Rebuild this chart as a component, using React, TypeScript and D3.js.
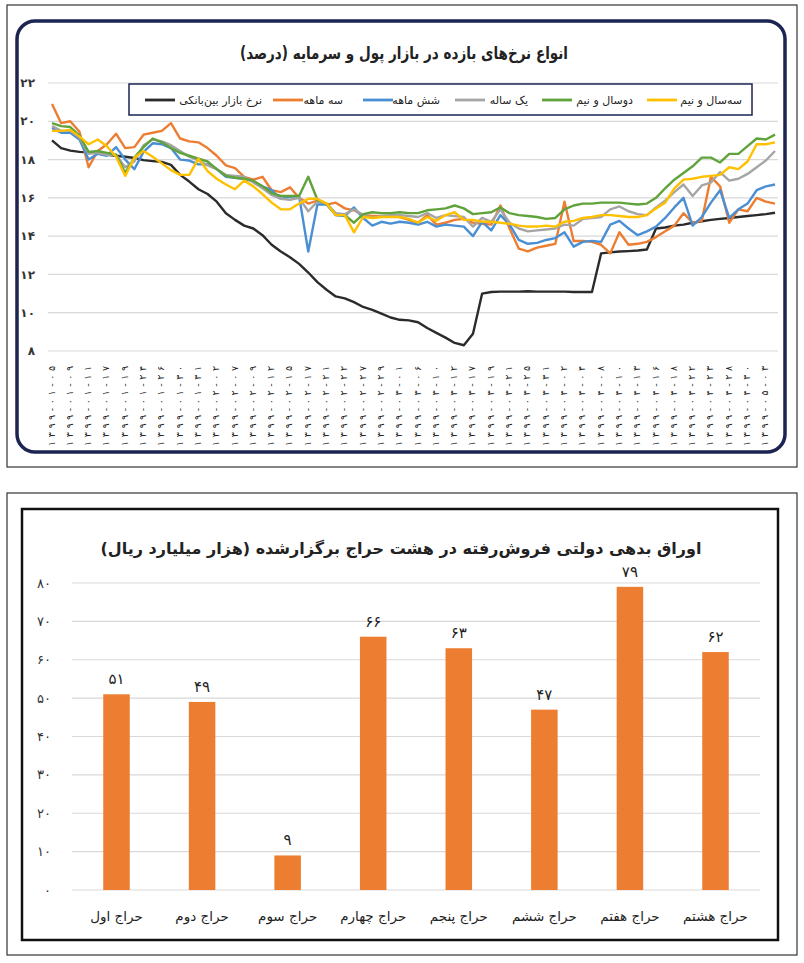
import React from 'react';
import * as d3 from 'd3';

// ---- top chart: rates (percent), one value per trading point ----
const dateLabels = [
  '1399-01-05', '1399-01-09', '1399-01-11', '1399-01-17', '1399-01-19',
  '1399-01-24', '1399-01-26', '1399-01-30', '1399-01-31', '1399-02-02',
  '1399-02-07', '1399-02-09', '1399-02-12', '1399-02-15', '1399-02-17',
  '1399-02-21', '1399-02-22', '1399-02-27', '1399-02-29', '1399-03-01',
  '1399-03-06', '1399-03-10', '1399-03-12', '1399-03-17', '1399-03-19',
  '1399-03-21', '1399-03-25', '1399-03-31', '1399-04-02', '1399-04-04',
  '1399-04-08', '1399-04-10', '1399-04-13', '1399-04-16', '1399-04-18',
  '1399-04-22', '1399-04-23', '1399-04-28', '1399-04-30', '1399-05-03',
];

const interbank = [
  19.0, 18.6, 18.47, 18.4, 18.38, 18.35, 18.25, 18.2, 18.15, 18.08,
  17.97, 17.92, 17.88, 17.72, 17.2, 16.85, 16.45, 16.2, 15.8, 15.2,
  14.85, 14.55, 14.4, 14.05, 13.55, 13.2, 12.9, 12.55, 12.1, 11.6,
  11.2, 10.85, 10.75, 10.55, 10.3, 10.15, 9.95, 9.75, 9.63, 9.6,
  9.5, 9.2, 8.95, 8.7, 8.42, 8.3, 8.9, 11.0, 11.08, 11.1,
  11.1, 11.1, 11.12, 11.1, 11.1, 11.1, 11.1, 11.08, 11.08, 11.08,
  13.1, 13.15, 13.2, 13.22, 13.25, 13.3, 14.4, 14.45, 14.55, 14.6,
  14.7, 14.78, 14.85, 14.9, 14.95, 15.0, 15.05, 15.1, 15.15, 15.22,
];
const threeMonth = [
  20.9, 19.9, 20.0, 19.45, 17.6, 18.45, 18.8, 19.35, 18.6, 18.65,
  19.3, 19.4, 19.5, 19.9, 19.1, 18.95, 18.9, 18.6, 18.2, 17.7,
  17.55, 17.1, 16.95, 17.1, 16.4, 16.3, 16.55, 16.0, 15.7, 15.85,
  15.65, 15.75, 15.45, 15.35, 15.1, 15.05, 15.05, 15.05, 15.0, 14.85,
  14.7, 15.1, 14.6, 14.7, 14.85, 14.9, 14.7, 14.65, 14.6, 15.6,
  14.4, 13.35, 13.2, 13.4, 13.5, 13.6, 15.8, 13.75, 13.75, 13.7,
  13.55, 13.1, 14.2, 13.55, 13.6, 13.7, 13.95, 14.25, 14.55, 15.2,
  14.7, 14.8, 17.1, 16.6, 14.7, 15.4, 15.3, 16.0, 15.8, 15.7,
];
const sixMonth = [
  19.65, 19.4, 19.4, 19.05, 18.0, 18.3, 18.2, 18.65, 18.0, 17.5,
  18.4, 18.85, 18.8, 18.6, 18.0, 17.95, 17.75, 17.75, 17.5, 17.1,
  17.05, 17.0, 16.85, 16.6, 16.4, 15.95, 16.05, 16.1, 13.2, 15.65,
  15.65, 15.1, 15.05, 15.5, 14.95, 14.55, 14.75, 14.65, 14.75, 14.7,
  14.6, 14.75, 14.5, 14.6, 14.55, 14.5, 14.0, 14.75, 14.3, 15.1,
  14.6, 13.8, 13.6, 13.65, 13.8, 13.9, 14.2, 13.45, 13.7, 13.75,
  13.7, 14.6, 14.8, 14.4, 14.05, 14.25, 14.5, 14.95, 15.5, 16.0,
  14.55, 15.0, 15.75, 16.4, 14.95, 15.4, 15.7, 16.4, 16.6, 16.7,
];
const oneYear = [
  19.75, 19.5, 19.5, 19.15, 18.3, 18.35, 18.25, 18.25, 17.6, 17.9,
  18.75, 19.05, 18.95, 18.75, 18.45, 18.15, 17.95, 17.7, 17.5, 17.2,
  17.15, 17.1, 16.8, 16.5, 16.15, 15.95, 15.9, 16.0, 15.3, 15.8,
  15.7, 15.2, 15.15, 15.4, 15.1, 14.95, 15.05, 15.1, 15.1, 15.05,
  15.0, 15.2, 14.95, 15.1, 15.05, 15.0, 14.5, 14.95, 14.75, 15.4,
  14.7, 14.4, 14.25, 14.3, 14.35, 14.4, 14.6, 14.55, 14.9, 14.95,
  15.0, 15.4, 15.55, 15.3, 15.15, 15.1, 15.5, 15.85, 16.3, 16.7,
  16.1, 16.65, 16.8, 17.35, 16.9, 17.0, 17.25, 17.6, 17.95, 18.45,
];
const twoHalfYear = [
  19.9, 19.75, 19.7, 19.25, 18.4, 18.45, 18.35, 18.25, 17.3, 18.1,
  18.65, 19.1, 18.9, 18.6, 18.35, 18.2, 18.05, 17.9, 17.5, 17.15,
  17.05, 17.0, 16.9, 16.6, 16.25, 16.1, 16.1, 16.1, 17.1, 15.9,
  15.7, 15.1, 15.1, 14.7, 15.15, 15.25, 15.2, 15.2, 15.25, 15.2,
  15.2, 15.35, 15.4, 15.45, 15.6, 15.45, 15.15, 15.2, 15.25, 15.5,
  15.2, 15.1, 15.05, 15.0, 14.9, 14.95, 15.4, 15.6, 15.7, 15.7,
  15.75, 15.75, 15.75, 15.7, 15.65, 15.7, 16.0, 16.5, 16.95, 17.3,
  17.65, 18.1, 18.1, 17.85, 18.3, 18.3, 18.7, 19.1, 19.05, 19.3,
];
const threeHalfYear = [
  19.5, 19.5, 19.55, 19.2, 18.8, 19.05, 18.7, 18.15, 17.15, 18.1,
  18.45, 18.15, 17.8, 17.45, 17.2, 17.2, 18.05, 17.4, 17.0, 16.7,
  16.45, 16.9, 16.6, 16.2, 15.75, 15.4, 15.4, 15.7, 15.95, 15.95,
  15.7, 15.1, 15.1, 14.2, 15.0, 14.95, 15.0, 15.0, 15.0, 14.9,
  14.7, 15.0, 14.8, 15.1, 15.25, 14.85, 14.85, 14.75, 14.75, 14.7,
  14.65, 14.55, 14.5, 14.5, 14.55, 14.5, 14.75, 14.8, 14.95, 15.0,
  15.1, 15.1, 15.05, 15.0, 15.0, 15.1, 15.45, 15.75, 16.5, 16.95,
  17.0, 17.1, 17.15, 17.2, 17.6, 17.5, 17.9, 18.8, 18.8, 18.9,
];

const seriesNames = [
  'نرخ بازار بین‌بانکی', 'سه ماهه', 'شش ماهه', 'یک ساله', 'دوسال و نیم', 'سه‌سال و نیم',
];
const seriesColors = ['#2b2b2b', '#ED7D31', '#4A8FD4', '#A5A5A5', '#5FA33A', '#FFC000'];
const seriesValues = [interbank, threeMonth, sixMonth, oneYear, twoHalfYear, threeHalfYear];
const rateTicks = [8, 10, 12, 14, 16, 18, 20, 22];

// ---- bottom chart: sold government bonds per auction (thousand billion rials) ----
const auctions = [
  'حراج اول', 'حراج دوم', 'حراج سوم', 'حراج چهارم',
  'حراج پنجم', 'حراج ششم', 'حراج هفتم', 'حراج هشتم',
];
const auctionValues = [51, 49, 9, 66, 63, 47, 79, 62];
const auctionTicks = [0, 10, 20, 30, 40, 50, 60, 70, 80];

const faDigits = '۰۱۲۳۴۵۶۷۸۹';
const fa = (v: string | number) => String(v).replace(/[0-9]/g, d => faDigits[+d]);

const FONT = '"DejaVu Sans", sans-serif';
const NAVY = '#1c2452';

// legend layout (swatch start, text end) – RTL style legend of the original
const legendSwatchX = [145, 273, 363, 455, 542, 647];
const legendTextEnd = [262, 343, 440, 528, 633, 742];

const RatesChart: React.FC = () => {
  const n = interbank.length;
  const x = d3.scaleLinear().domain([0, n - 1]).range([52, 775]);
  const y = d3.scaleLinear().domain([8, 22]).range([351, 83]);
  const line = d3
    .line<number>()
    .x((_d, i) => x(i))
    .y(d => y(d));

  return (
    <g fontFamily={FONT}>
      {/* frames */}
      <rect x={7} y={5} width={790} height={462} fill="#fff" stroke="#333" strokeWidth={1.2} />
      <rect x={17} y={21} width={768} height={431} rx={18} fill="#fff" stroke={NAVY} strokeWidth={3.5} />

      <text
        x={404}
        y={59}
        textAnchor="middle"
        fontSize={17}
        fontWeight="bold"
        fill="#222"
        textLength={328}
        lengthAdjust="spacingAndGlyphs"
      >
        انواع نرخ‌های بازده در بازار پول و سرمایه (درصد)
      </text>

      {/* grid + y labels */}
      {rateTicks.map(t => (
        <g key={t}>
          <line x1={48} x2={778} y1={y(t)} y2={y(t)} stroke="#d9d9d9" strokeWidth={1.2} />
          <text x={35} y={y(t)} dy="0.35em" textAnchor="end" fontSize={12} fontWeight="bold" fill="#333">
            {fa(t)}
          </text>
        </g>
      ))}

      {/* x labels (every second point) */}
      {dateLabels.map((lab, k) => (
        <text
          key={lab + k}
          transform={`translate(${x(k * 2)},366) rotate(-90)`}
          textAnchor="end"
          dominantBaseline="middle"
          fontSize={9.5}
          fill="#222"
          textLength={80}
          lengthAdjust="spacing"
        >
          {fa(lab)}
        </text>
      ))}

      {/* series */}
      {seriesValues.map((vals, s) => (
        <path
          key={s}
          d={line(vals) || ''}
          fill="none"
          stroke={seriesColors[s]}
          strokeWidth={2.4}
          strokeLinejoin="round"
        />
      ))}

      {/* legend */}
      <rect x={129} y={84} width={623} height={31} fill="#fff" stroke={NAVY} strokeWidth={1.5} />
      {seriesNames.map((name, s) => (
        <g key={name}>
          <line
            x1={legendSwatchX[s]}
            x2={legendSwatchX[s] + 30}
            y1={100}
            y2={100}
            stroke={seriesColors[s]}
            strokeWidth={2.8}
          />
          <text x={legendTextEnd[s]} y={104} textAnchor="end" fontSize={11} fill="#222">
            {name}
          </text>
        </g>
      ))}
    </g>
  );
};

const AuctionChart: React.FC = () => {
  const x = d3
    .scaleBand<string>()
    .domain(auctions)
    .range([72, 760])
    .paddingInner(0.69)
    .paddingOuter(0.365);
  const y = d3.scaleLinear().domain([0, 80]).range([890, 583]);

  return (
    <g fontFamily={FONT}>
      <rect x={7} y={493} width={790} height={462} fill="#fff" stroke="#333" strokeWidth={1.2} />
      <rect x={22} y={509} width={756} height={431} fill="#fff" stroke="#111" strokeWidth={2.5} />

      <text x={401} y={554} textAnchor="middle" fontSize={16} fontWeight="bold" fill="#222">
        اوراق بدهی دولتی فروش‌رفته در هشت حراج برگزارشده (هزار میلیارد ریال)
      </text>

      {auctionTicks.map(t => (
        <g key={t}>
          <line x1={72} x2={760} y1={y(t)} y2={y(t)} stroke="#d9d9d9" strokeWidth={1.2} />
          <text x={51} y={y(t)} dy="0.35em" textAnchor="end" fontSize={13} fill="#333">
            {fa(t)}
          </text>
        </g>
      ))}

      {auctions.map((a, i) => {
        const v = auctionValues[i];
        const bx = x(a) ?? 0;
        return (
          <g key={a}>
            <rect x={bx} y={y(v)} width={x.bandwidth()} height={y(0) - y(v)} fill="#ED7D31" />
            <text
              x={bx + x.bandwidth() / 2}
              y={y(v) - 10}
              textAnchor="middle"
              fontSize={15}
              fill="#222"
            >
              {fa(v)}
            </text>
            <text
              x={bx + x.bandwidth() / 2}
              y={921}
              textAnchor="middle"
              fontSize={13.5}
              fill="#222"
            >
              {a}
            </text>
          </g>
        );
      })}
    </g>
  );
};

export default function App() {
  return (
    <svg
      width={804}
      height={963}
      viewBox="0 0 804 963"
      style={{ position: 'absolute', left: 0, top: 0, background: '#fff' }}
    >
      <rect width={804} height={963} fill="#fff" />
      <RatesChart />
      <AuctionChart />
    </svg>
  );
}
